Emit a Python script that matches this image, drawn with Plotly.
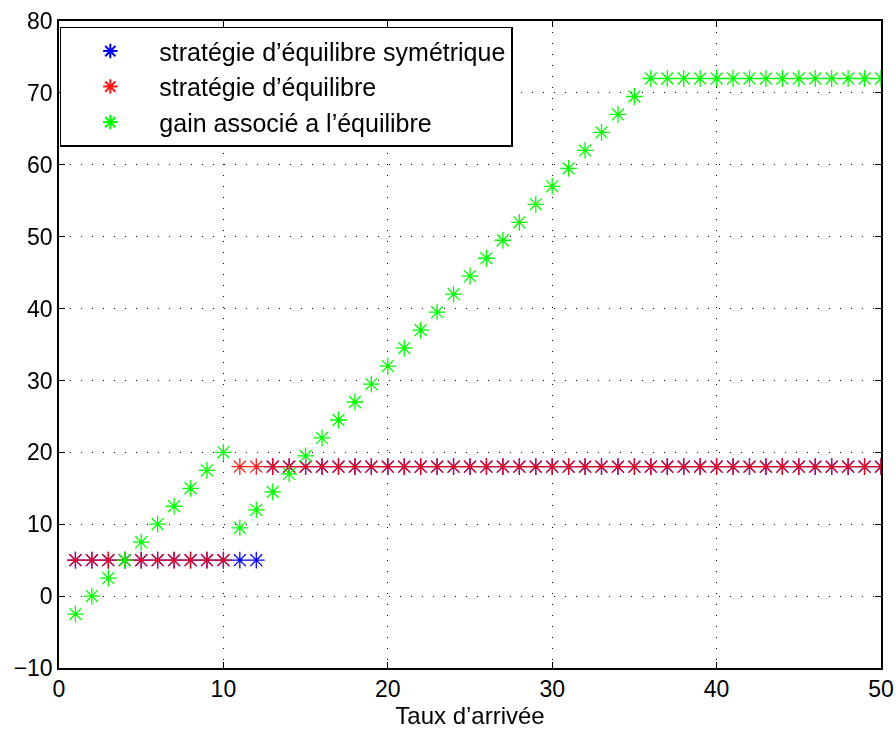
import plotly.graph_objects as go

x = list(range(1, 51))
sym = [5]*12 + [18]*38
eq = [5]*10 + [18]*40
gain = [-2.5, 0, 2.5, 5, 7.5, 10, 12.5, 15, 17.5, 20,
        9.5, 12, 14.5, 17, 19.5, 22, 24.5, 27, 29.5, 32,
        34.5, 37, 39.5, 42, 44.5, 47, 49.5, 52, 54.5, 57,
        59.5, 62, 64.5, 67, 69.5] + [72]*15

names = ["stratégie d’équilibre symétrique", "stratégie d’équilibre", "gain associé a l’équilibre"]
colors = ["#0000ff", "#ff0000", "#00ff00"]
series = [sym, eq, gain]

fig = go.Figure()
for i, (ys, nm, c) in enumerate(zip(series, names, colors)):
    fig.add_trace(go.Scatter(
        x=x, y=ys, mode="markers", name=nm, legendgroup=f"g{i}",
        marker=dict(symbol="asterisk-open", size=14, color=c,
                    line=dict(color=c, width=1.3)),
        opacity=0.9 if i == 1 else 1.0,
    ))

axis_common = dict(
    showline=True, linecolor="black", linewidth=1.5, mirror="allticks",
    ticks="inside", ticklen=6, tickcolor="black", tickwidth=1,
    showgrid=True, gridcolor="black", gridwidth=1, griddash="1px,10px",
    zeroline=False, automargin=False,
    tickfont=dict(family="Liberation Sans, Arial", size=23, color="black"),
)

fig.update_layout(
    width=896, height=731,
    margin=dict(l=59, r=15, t=21, b=63),
    paper_bgcolor="white", plot_bgcolor="white",
    font=dict(family="Liberation Sans, Arial", size=23, color="black"),
    xaxis=dict(range=[0, 50], tickvals=[0, 10, 20, 30, 40, 50],
               title=dict(text="Taux d’arrivée", font=dict(size=24), standoff=5),
               **axis_common),
    yaxis=dict(range=[-10, 80], tickvals=list(range(-10, 81, 10)),
               ticktext=["−10", "0", "10", "20", "30", "40", "50", "60", "70", "80"],
               **axis_common),
    legend=dict(x=0.001, y=0.991, xanchor="left", yanchor="top",
                bgcolor="white", bordercolor="black", borderwidth=1.5,
                font=dict(size=25), itemwidth=88, tracegroupgap=0,
                itemsizing="constant"),
)

fig.write_html("out.html")
